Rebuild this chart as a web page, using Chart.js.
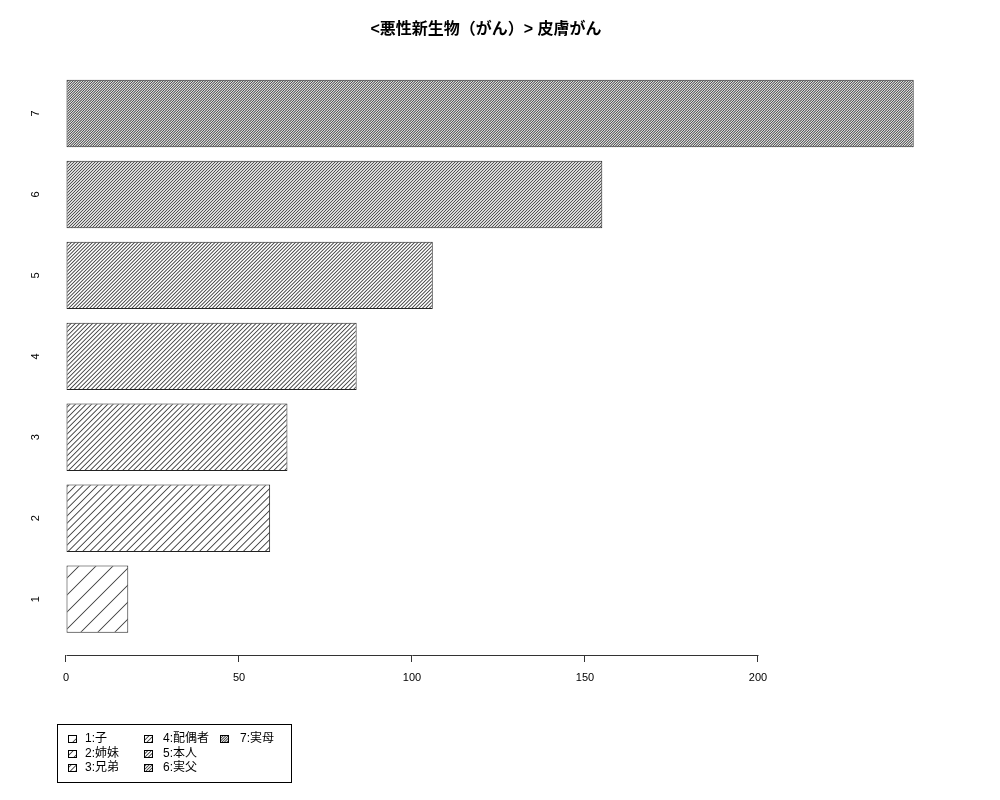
<!DOCTYPE html>
<html><head><meta charset="utf-8">
<script src="https://cdn.jsdelivr.net/npm/chart.js@4.4.0/dist/chart.umd.min.js"></script>
<style>html,body{margin:0;padding:0;background:#fff}#wrap{width:1000px;height:800px}</style>
</head><body><div id="wrap"><canvas id="c" width="1000" height="800"></canvas></div>
<script>
const categories = ['1','2','3','4','5','6','7'];
const legendLabels = ['1:子','2:姉妹','3:兄弟','4:配偶者','5:本人','6:実父','7:実母'];
const values = [18, 59, 64, 84, 106, 155, 245];
const xTicks = [0, 50, 100, 150, 200];
const titleText = '<悪性新生物（がん）> 皮膚がん';
const hatchSpacing = [17, 7.3, 5.4, 4.3, 3.5, 3.0, 2.5];

const FONT = "'Liberation Sans', 'Noto Sans CJK JP', sans-serif";

// cumulative of a unit triangle (pixel footprint along the diagonal)
function triCdf(u) {
  if (u <= -1) return 0;
  if (u < 0) return (1 + u) * (1 + u) / 2;
  if (u < 1) return 1 - (1 - u) * (1 - u) / 2;
  return 1;
}
function lineCover(d) {
  const h = 0.6;
  return triCdf(d + h) - triCdf(d - h);
}

// 45-degree "/" hatch tile with anti-aliased thin lines
function makePattern(p) {
  const k = 10;
  const T = Math.round(k * p);
  const step = T / k;
  const cv = document.createElement('canvas');
  cv.width = T; cv.height = T;
  const g = cv.getContext('2d');
  const img = g.createImageData(T, T);
  for (let y = 0; y < T; y++) {
    for (let x = 0; x < T; x++) {
      const v = ((T - 1 - x) + (T - 1 - y)) % step;
      let a = lineCover(v) + lineCover(step - v);
      if (a > 1) a = 1;
      const shade = Math.round(255 - a * 205);
      const o = (y * T + x) * 4;
      img.data[o] = shade; img.data[o + 1] = shade; img.data[o + 2] = shade; img.data[o + 3] = 255;
    }
  }
  g.putImageData(img, 0, 0);
  return g.createPattern(cv, 'repeat');
}

const ctx = document.getElementById('c').getContext('2d');
const patterns = hatchSpacing.map(makePattern);

const axisLinePlugin = {
  id: 'axisLine',
  afterDraw(chart) {
    const xs = chart.scales.x;
    const y = Math.round(chart.chartArea.bottom) + 0.5;
    const c = chart.ctx;
    c.save();
    c.strokeStyle = '#333';
    c.lineWidth = 1;
    c.beginPath();
    c.moveTo(Math.round(xs.getPixelForValue(xTicks[0])) + 0.5, y);
    c.lineTo(Math.round(xs.getPixelForValue(xTicks[xTicks.length - 1])) + 0.5, y);
    c.stroke();
    c.restore();
  }
};

const legendPlugin = {
  id: 'rLegend',
  afterDraw(chart) {
    const c = chart.ctx;
    c.save();
    c.strokeStyle = '#000';
    c.lineWidth = 1;
    c.strokeRect(57.5, 724.5, 234, 58);
    const colBox = [68, 144, 220];
    const colText = [85, 163, 240];
    const rowY = [739, 753.5, 768];
    c.font = '12px ' + FONT;
    c.textBaseline = 'middle';
    c.textAlign = 'left';
    legendLabels.forEach((lab, i) => {
      const col = Math.floor(i / 3), row = i % 3;
      const bx = colBox[col], by = Math.round(rowY[row] - 4);
      c.fillStyle = patterns[i];
      c.fillRect(bx, by, 9, 8);
      c.strokeStyle = '#000';
      c.strokeRect(bx + 0.5, by + 0.5, 8, 7);
      c.fillStyle = '#000';
      c.fillText(lab, colText[col], rowY[row]);
    });
    c.restore();
  }
};

new Chart(ctx, {
  type: 'bar',
  data: {
    labels: categories,
    datasets: [{
      data: values,
      backgroundColor: patterns,
      borderColor: '#222',
      borderWidth: 1,
      borderSkipped: false,
      barPercentage: 0.833,
      categoryPercentage: 1
    }]
  },
  options: {
    indexAxis: 'y',
    responsive: false,
    animation: false,
    devicePixelRatio: 1,
    layout: { padding: { left: 0, right: 28, top: 0, bottom: 0 } },
    plugins: {
      legend: { display: false },
      tooltip: { enabled: false },
      title: {
        display: true,
        text: titleText,
        color: '#000',
        font: { family: FONT, size: 16, weight: 'bold', lineHeight: 1.2 },
        padding: { top: 20, bottom: 18.5 }
      }
    },
    scales: {
      x: {
        type: 'linear',
        position: 'bottom',
        min: -5.78,
        max: 261.85,
        afterBuildTicks: (s) => { s.ticks = xTicks.map(v => ({ value: v })); },
        afterFit: (s) => { s.height = 145; },
        grid: { display: true, drawOnChartArea: false, drawTicks: true, tickLength: 7, color: '#333', lineWidth: 1 },
        border: { display: false },
        ticks: { color: '#000', font: { family: FONT, size: 11 }, padding: 9, maxRotation: 0, autoSkip: false }
      },
      y: {
        type: 'linear',
        position: 'left',
        offset: false,
        min: 0.31,
        max: 7.69,
        afterBuildTicks: (s) => { s.ticks = categories.map((c, i) => ({ value: i + 1 })); },
        afterFit: (s) => { s.width = 46; },
        grid: { display: false, drawTicks: false, offset: false },
        border: { display: false },
        ticks: {
          color: '#000',
          font: { family: FONT, size: 11 },
          padding: 7,
          minRotation: 90,
          maxRotation: 90,
          crossAlign: 'center',
          autoSkip: false,
          callback: (v) => categories[v - 1] ?? ''
        }
      }
    }
  },
  plugins: [axisLinePlugin, legendPlugin]
});
</script>
</body></html>
